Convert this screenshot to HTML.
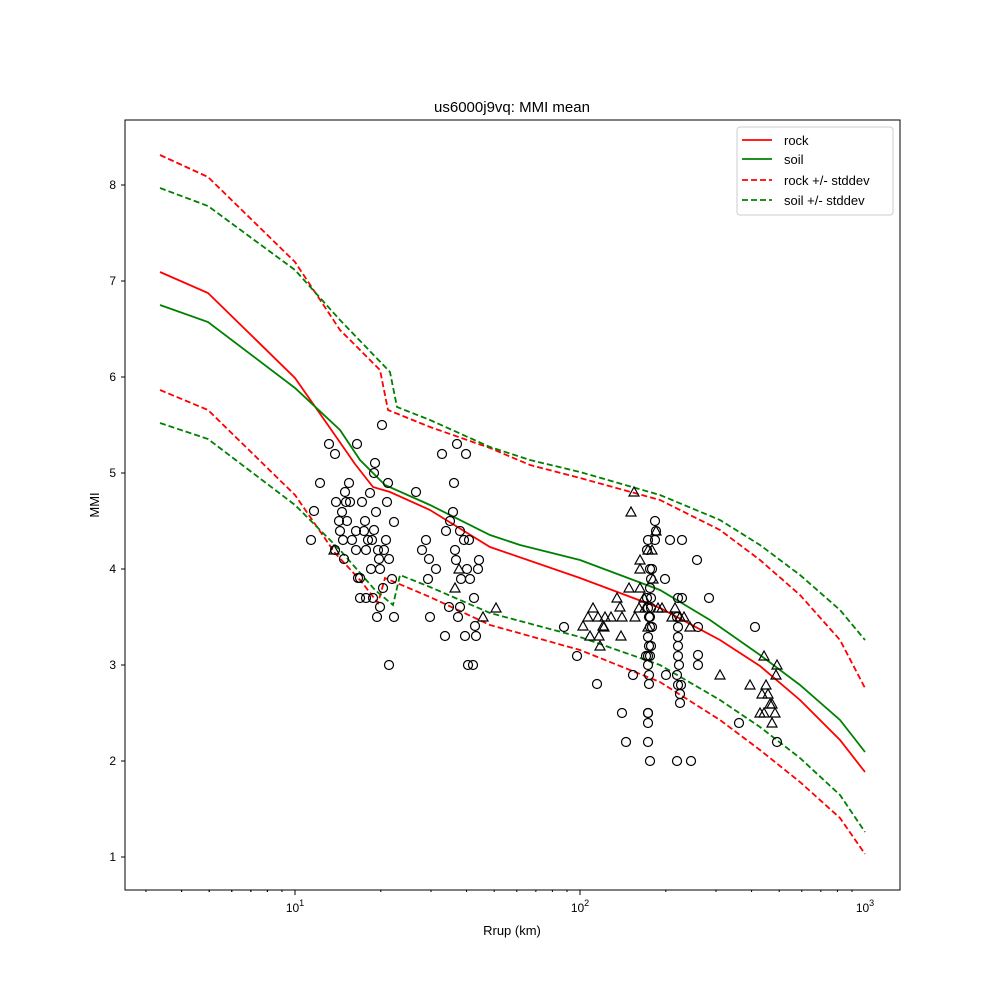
<!DOCTYPE html>
<html><head><meta charset="utf-8"><style>body{margin:0;background:#fff}svg{display:block}text{font-family:"Liberation Sans","DejaVu Sans",sans-serif;fill:#000}</style></head>
<body>
<svg id="s" width="1000" height="1000" xmlns="http://www.w3.org/2000/svg">
<rect width="1000" height="1000" fill="#fff"/>
<text x="512" y="112" font-size="15" text-anchor="middle">us6000j9vq: MMI mean</text>
<g id="lines" fill="none" stroke-width="1.8"></g>
<g id="pts" fill="none" stroke="#000" stroke-width="1.2"></g>
<rect x="125" y="120" width="775" height="770" fill="none" stroke="#000" stroke-width="1"/>
<g id="ticks" stroke="#000"></g>
<g font-size="12">
<text x="295" y="912" text-anchor="middle">10<tspan dy="-6" font-size="9">1</tspan></text>
<text x="580" y="912" text-anchor="middle">10<tspan dy="-6" font-size="9">2</tspan></text>
<text x="865" y="912" text-anchor="middle">10<tspan dy="-6" font-size="9">3</tspan></text>
<text x="512" y="935" text-anchor="middle" font-size="13">Rrup (km)</text>
<text x="99" y="505" text-anchor="middle" font-size="13" transform="rotate(-90 99 505)">MMI</text>
</g>
<g id="yl" font-size="12"></g>
<g>
<rect x="737" y="127" width="156" height="88" fill="#fff" stroke="#ccc" rx="3"/>
<line x1="742" y1="140" x2="772" y2="140" stroke="red" stroke-width="1.8"/><text x="784" y="145" font-size="13">rock</text>
<line x1="742" y1="159" x2="772" y2="159" stroke="green" stroke-width="1.8"/><text x="784" y="164" font-size="13">soil</text>
<line x1="742" y1="180" x2="772" y2="180" stroke="red" stroke-width="1.8" stroke-dasharray="6,3"/><text x="784" y="185" font-size="13">rock +/- stddev</text>
<line x1="742" y1="200" x2="772" y2="200" stroke="green" stroke-width="1.8" stroke-dasharray="6,3"/><text x="784" y="205" font-size="13">soil +/- stddev</text>
</g>
</svg>
<script>
const NS="http://www.w3.org/2000/svg";
function el(p,t,a){const e=document.createElementNS(NS,t);for(const k in a)e.setAttribute(k,a[k]);document.getElementById(p).appendChild(e);return e;}
const L=[
["red","",[[160,272],[208,293],[295,378],[330,428],[355,464],[373,487],[390,492],[430,510],[490,547],[580,578],[660,608],[720,640],[760,666],[800,700],[840,740],[865,772]]],
["green","",[[160,305],[208,322],[295,388],[340,430],[360,460],[385,485],[430,505],[490,535],[520,545],[580,560],[660,590],[710,620],[760,655],[800,685],[840,720],[865,752]]],
["red","6,3",[[160,155],[208,177],[295,262],[340,330],[380,370],[388,410],[430,427],[490,448],[530,465],[580,478],[660,500],[720,530],[760,560],[800,595],[840,640],[865,688]]],
["green","6,3",[[160,188],[208,206],[295,270],[340,320],[390,372],[397,407],[430,420],[490,447],[530,460],[580,472],[660,495],[720,520],[760,545],[800,575],[840,610],[865,640]]],
["red","6,3",[[160,390],[208,410],[295,495],[335,553],[360,580],[378,603],[385,578],[430,597],[490,625],[580,650],[660,682],[720,720],[760,750],[800,782],[840,818],[865,854]]],
["green","6,3",[[160,423],[208,439],[295,505],[340,550],[375,590],[393,605],[400,575],[430,587],[490,613],[580,637],[660,665],[720,700],[760,727],[800,758],[840,795],[865,832]]]];
for(const [c,d,p] of L){const a={points:p.map(q=>q.join(",")).join(" "),stroke:c};if(d)a["stroke-dasharray"]=d;el("lines","polyline",a);}
const C=[[311,540],[314,511],[320,483],[329,444],[335,454],[336,502],[335,550],[339,521],[340,531],[342,512],[343,540],[344,559],[345,492],[346,502],[347,521],[349,483],[350,502],[352,540],[356,531],[356,550],[358,578],[357,444],[360,578],[360,598],[362,502],[364,531],[365,521],[366,550],[366,598],[368,540],[370,493],[371,569],[372,540],[373,598],[374,530],[374,473],[375,463],[376,512],[377,617],[378,550],[379,559],[380,569],[380,607],[382,425],[383,588],[384,550],[386,540],[387,502],[388,483],[389,559],[389,665],[392,579],[394,617],[394,522],[416,492],[422,550],[426,540],[428,579],[429,559],[430,617],[436,569],[442,454],[445,636],[446,531],[449,607],[450,521],[453,512],[454,483],[455,550],[456,560],[457,444],[458,617],[460,607],[460,531],[461,579],[464,540],[465,636],[466,454],[467,569],[468,665],[469,540],[470,579],[473,665],[474,598],[475,626],[476,636],[478,569],[479,560],[564,627],[577,656],[597,684],[622,713],[626,742],[633,675],[646,656],[648,713],[648,540],[647,550],[647,598],[648,608],[649,617],[650,627],[648,637],[649,646],[648,656],[648,665],[649,675],[649,684],[648,713],[648,723],[648,742],[650,761],[655,540],[656,531],[650,569],[651,579],[650,588],[651,598],[651,608],[650,617],[652,627],[651,646],[650,656],[652,569],[655,521],[666,675],[665,579],[670,540],[677,675],[678,627],[678,637],[678,646],[678,656],[679,665],[678,685],[680,694],[680,703],[677,617],[678,598],[681,685],[682,540],[691,761],[698,655],[698,665],[698,627],[697,560],[682,598],[709,598],[739,723],[755,627],[777,742],[677,761]];
for(const [x,y] of C)el("pts","circle",{cx:x,cy:y,r:4.5});
const T=[[629,588],[634,492],[631,512],[640,560],[640,569],[648,550],[652,550],[635,617],[620,607],[617,598],[621,636],[622,617],[611,617],[605,617],[640,588],[644,598],[648,627],[653,579],[656,531],[604,627],[593,608],[598,617],[603,626],[588,617],[590,636],[583,626],[639,608],[645,608],[658,608],[662,608],[672,617],[675,608],[680,617],[690,627],[684,617],[720,675],[750,685],[764,656],[777,665],[776,675],[762,694],[768,694],[770,704],[764,713],[772,704],[775,713],[772,723],[760,713],[766,685],[334,550],[496,608],[483,617],[459,569],[455,588],[599,636],[600,646]];
for(const [x,y] of T)el("pts","polygon",{points:`${x},${y-5} ${x-5},${y+4} ${x+5},${y+4}`});
for(let m=1;m<=8;m++){const y=857-96*(m-1);el("ticks","line",{x1:121,x2:125,y1:y,y2:y});const t=el("yl","text",{x:116,y:y+4,"text-anchor":"end"});t.textContent=m;}
for(let d=0;d<3;d++)for(let k=1;k<10;k++){const x=10**(d)*k;const px=295+285*Math.log10(x)-285;if(px<125||px>900)continue;el("ticks","line",{x1:px,x2:px,y1:890,y2:k==1?895:892});}
for(const k of [3,4,5,6,7,8,9]){const px=295+285*Math.log10(k/10);if(px>125)el("ticks","line",{x1:px,x2:px,y1:890,y2:892});}
</script>
</body></html>
